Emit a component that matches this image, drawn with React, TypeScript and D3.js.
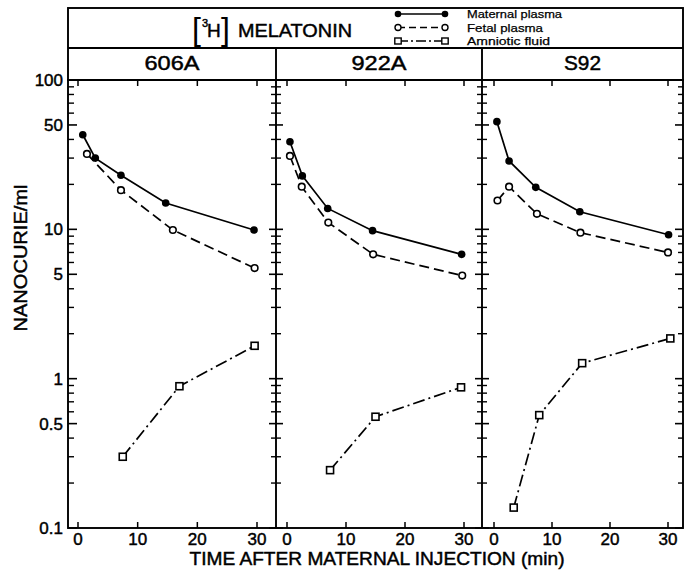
import React from "react";
import * as d3 from "d3";

// ---------- data ----------
const panelNames = ["606A", "922A", "S92"];
const legendLabels = ["Maternal plasma", "Fetal plasma", "Amniotic fluid"];
const yTickLabels = [100, 50, 10, 5, 1, 0.5, 0.1];
const xTickValues = [0, 10, 20, 30];

// 606A
const maternal606A_t = [0.8, 2.9, 7.2, 14.7, 29.5];
const maternal606A_v = [43, 30, 23, 15, 9.9];
const fetal606A_t = [1.5, 7.2, 15.9, 29.6];
const fetal606A_v = [32, 18.3, 9.9, 5.5];
const amniotic606A_t = [7.5, 17, 29.6];
const amniotic606A_v = [0.3, 0.89, 1.66];
// 922A
const maternal922A_t = [0.5, 2.6, 6.9, 14.5, 29.6];
const maternal922A_v = [38.6, 22.8, 13.8, 9.8, 6.8];
const fetal922A_t = [0.5, 2.5, 7.0, 14.6, 29.7];
const fetal922A_v = [31, 19.3, 11.1, 6.8, 4.9];
const amniotic922A_t = [7.3, 15, 29.5];
const amniotic922A_v = [0.244, 0.556, 0.875];
// S92
const maternalS92_t = [0.5, 2.6, 7.2, 14.8, 30.1];
const maternalS92_v = [52.6, 28.7, 19.1, 13.1, 9.2];
const fetalS92_t = [0.6, 2.6, 7.4, 14.9, 30];
const fetalS92_v = [15.6, 19.3, 12.7, 9.5, 7.0];
const amnioticS92_t = [3.4, 7.8, 15.2, 30.4];
const amnioticS92_v = [0.137, 0.57, 1.27, 1.86];

const zip = (t: number[], v: number[]) => t.map((d, i) => ({ t: d, v: v[i] }));
const panelData = [
  { m: zip(maternal606A_t, maternal606A_v), f: zip(fetal606A_t, fetal606A_v), a: zip(amniotic606A_t, amniotic606A_v) },
  { m: zip(maternal922A_t, maternal922A_v), f: zip(fetal922A_t, fetal922A_v), a: zip(amniotic922A_t, amniotic922A_v) },
  { m: zip(maternalS92_t, maternalS92_v), f: zip(fetalS92_t, fetalS92_v), a: zip(amnioticS92_t, amnioticS92_v) },
];

// ---------- layout ----------
const W = 689, H = 571;
const plotTop = 80, plotBottom = 528;
const headerTop = 8, headerMid = 48;
const panelLayout = [
  { left: 68, right: 276, x0: 78, x30: 257 },
  { left: 276, right: 482, x0: 287, x30: 464 },
  { left: 482, right: 683, x0: 494, x30: 668 },
];
const FONT = "'Liberation Sans', Arial, sans-serif";
const SW = 1.9;
const TS = { stroke: "#000", strokeWidth: 0.45 };

const y = d3.scaleLog().domain([0.1, 100]).range([plotBottom, plotTop]);

const majorVals = [0.1, 0.5, 1, 5, 10, 50, 100];
const minorVals: number[] = [];
[0.1, 1, 10].forEach((dec) => {
  [2, 3, 4, 6, 7, 8, 9].forEach((m) => minorVals.push(+(dec * m).toFixed(3)));
});

export default function App() {
  const lineGen = (x: d3.ScaleLinear<number, number>) =>
    d3
      .line<{ t: number; v: number }>()
      .x((d) => x(d.t))
      .y((d) => y(d.v));

  const leftX = panelLayout[0].left;
  const rightX = panelLayout[2].right;

  const yTicks: JSX.Element[] = [];
  majorVals.forEach((v, i) =>
    yTicks.push(<line key={"lM" + i} x1={leftX} x2={leftX + 9} y1={y(v)} y2={y(v)} stroke="#000" strokeWidth={1.6} />)
  );
  minorVals.forEach((v, i) =>
    yTicks.push(<line key={"lm" + i} x1={leftX} x2={leftX + 6} y1={y(v)} y2={y(v)} stroke="#000" strokeWidth={1.4} />)
  );
  [panelLayout[1].left, panelLayout[2].left].forEach((dx, j) => {
    majorVals.forEach((v, i) =>
      yTicks.push(<line key={"dM" + j + i} x1={dx - 7} x2={dx + 7} y1={y(v)} y2={y(v)} stroke="#000" strokeWidth={1.6} />)
    );
    minorVals.forEach((v, i) =>
      yTicks.push(<line key={"dm" + j + i} x1={dx - 5} x2={dx + 5} y1={y(v)} y2={y(v)} stroke="#000" strokeWidth={1.4} />)
    );
  });
  majorVals.forEach((v, i) =>
    yTicks.push(<line key={"rM" + i} x1={rightX - 8} x2={rightX} y1={y(v)} y2={y(v)} stroke="#000" strokeWidth={1.6} />)
  );
  minorVals.forEach((v, i) =>
    yTicks.push(<line key={"rm" + i} x1={rightX - 5} x2={rightX} y1={y(v)} y2={y(v)} stroke="#000" strokeWidth={1.4} />)
  );

  const legendY = [14, 27.5, 41];
  const legX1 = 398, legX2 = 445;

  return (
    <svg width={W} height={H} style={{ position: "absolute", left: 0, top: 0, background: "#fff" }} fontFamily={FONT}>
      <rect x={0} y={0} width={W} height={H} fill="#fff" />
      {/* header box */}
      <rect x={leftX} y={headerTop} width={rightX - leftX} height={plotTop - headerTop} fill="none" stroke="#000" strokeWidth={SW} />
      <line x1={leftX} x2={rightX} y1={headerMid} y2={headerMid} stroke="#000" strokeWidth={SW} />
      {/* title */}
      <text x={192} y={40} fontSize={32} fill="#000" fontWeight={300}>[</text>
      <text x={202} y={27} fontSize={11} fill="#000" {...TS}>3</text>
      <text x={207} y={37} fontSize={19} fill="#000" {...TS}>H</text>
      <text x={221} y={40} fontSize={32} fill="#000" fontWeight={300}>]</text>
      <text x={238} y={37} fontSize={19} fill="#000" textLength={114} lengthAdjust="spacingAndGlyphs" {...TS}>MELATONIN</text>
      {/* legend */}
      {legendLabels.map((lab, i) => {
        const ly = legendY[i];
        const dash = i === 0 ? undefined : i === 1 ? "7,4" : "10,3,2,3";
        return (
          <g key={"leg" + i}>
            <line x1={legX1} x2={legX2} y1={ly} y2={ly} stroke="#000" strokeWidth={1.6} strokeDasharray={dash} />
            {[legX1, legX2].map((lx, k) =>
              i === 0 ? (
                <circle key={k} cx={lx} cy={ly} r={3.3} fill="#000" />
              ) : i === 1 ? (
                <circle key={k} cx={lx} cy={ly} r={3} fill="#fff" stroke="#000" strokeWidth={1.4} />
              ) : (
                <rect key={k} x={lx - 3.2} y={ly - 3} width={6.4} height={6} fill="#fff" stroke="#000" strokeWidth={1.4} />
              )
            )}
            <text x={467} y={ly + 4} fontSize={11.5} fill="#000" stroke="#000" strokeWidth={0.25}
              textLength={i === 0 ? 95 : i === 1 ? 76 : 83} lengthAdjust="spacingAndGlyphs">
              {lab}
            </text>
          </g>
        );
      })}
      {/* panel labels */}
      {panelNames.map((n, i) => {
        const p = panelLayout[i];
        return (
          <text key={"pn" + i} x={(p.left + p.right) / 2} y={70} fontSize={20} textAnchor="middle" fill="#000"
            textLength={n.length === 4 ? 55 : 37} lengthAdjust="spacingAndGlyphs" {...TS}>
            {n}
          </text>
        );
      })}
      {/* plot frame */}
      <rect x={leftX} y={plotTop} width={rightX - leftX} height={plotBottom - plotTop} fill="none" stroke="#000" strokeWidth={SW} />
      {panelLayout.slice(1).map((p, i) => (
        <line key={"div" + i} x1={p.left} x2={p.left} y1={headerMid} y2={plotBottom} stroke="#000" strokeWidth={SW} />
      ))}
      {yTicks}
      {/* y tick labels */}
      {yTickLabels.map((v, i) => (
        <text key={"yl" + i} x={63} y={y(v) + 6} fontSize={17} textAnchor="end" fill="#000" {...TS}>
          {String(v)}
        </text>
      ))}
      {/* panels */}
      {panelLayout.map((p, pi) => {
        const x = d3.scaleLinear().domain([0, 30]).range([p.x0, p.x30]);
        const lg = lineGen(x);
        const data = panelData[pi];
        return (
          <g key={"panel" + pi}>
            {xTickValues.map((t, i) => (
              <g key={"xt" + i}>
                <line x1={x(t)} x2={x(t)} y1={plotBottom} y2={plotBottom - 6} stroke="#000" strokeWidth={1.5} />
                <line x1={x(t)} x2={x(t)} y1={plotTop} y2={plotTop + 6} stroke="#000" strokeWidth={1.5} />
                <text x={x(t)} y={545} fontSize={17} textAnchor="middle" fill="#000" {...TS}>
                  {t}
                </text>
              </g>
            ))}
            <path d={lg(data.m) || ""} fill="none" stroke="#000" strokeWidth={1.7} />
            <path d={lg(data.f) || ""} fill="none" stroke="#000" strokeWidth={1.7} strokeDasharray="10,5" />
            <path d={lg(data.a) || ""} fill="none" stroke="#000" strokeWidth={1.7} strokeDasharray="12,4,2,4" />
            {data.m.map((d, i) => (
              <circle key={"m" + i} cx={x(d.t)} cy={y(d.v)} r={3.8} fill="#000" />
            ))}
            {data.f.map((d, i) => (
              <circle key={"f" + i} cx={x(d.t)} cy={y(d.v)} r={3.3} fill="#fff" stroke="#000" strokeWidth={1.6} />
            ))}
            {data.a.map((d, i) => (
              <rect key={"a" + i} x={x(d.t) - 3.5} y={y(d.v) - 3.5} width={7} height={7} fill="#fff" stroke="#000" strokeWidth={1.6} />
            ))}
          </g>
        );
      })}
      {/* axis titles */}
      <text x={377} y={565} fontSize={18} textAnchor="middle" fill="#000" textLength={375} lengthAdjust="spacingAndGlyphs" {...TS}>
        TIME AFTER MATERNAL INJECTION (min)
      </text>
      <text transform={`translate(27,${258}) rotate(-90)`} fontSize={19} textAnchor="middle" fill="#000"
        textLength={147} lengthAdjust="spacingAndGlyphs" {...TS}>
        NANOCURIE/ml
      </text>
    </svg>
  );
}
